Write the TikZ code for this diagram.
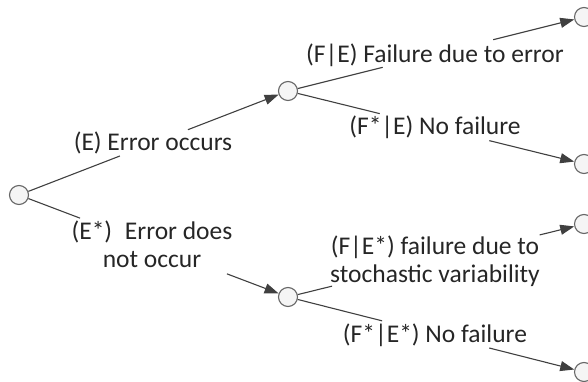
\documentclass[tikz,border=0pt]{standalone}
\usepackage{fontspec}
\setmainfont{Carlito}
\usetikzlibrary{arrows.meta,calc}
\begin{document}
\begin{tikzpicture}[x=1pt,y=-1pt,
  evt/.style={circle,draw=black!60,fill=black!4,line width=1.1pt,minimum size=19pt,inner sep=0pt},
  lbl/.style={text=black!85,font=\fontsize{25.5}{28}\selectfont,align=center,inner sep=0pt},
  seg/.style={draw=black!75,line width=1.1pt},
  arr/.style={seg,-{Triangle[length=14pt,width=10pt]}}]
\useasboundingbox (0,0) rectangle (588,382);
\node[evt] (root) at (19,195) {};
\node[evt] (um) at (288,91) {};
\node[evt] (lm) at (288,297) {};
\node[evt] (r1) at (584,17) {};
\node[evt] (r2) at (584,164) {};
\node[evt] (r3) at (584,224) {};
\node[evt] (r4) at (584,372) {};
% labels
\node[lbl] (le) at (153,143) {(E) Error occurs};
\node[lbl] (les) at (152,244) {(E*)\enspace Error does\\not occur};
\node[lbl] (lfe) at (435,55) {(F|E) Failure due to error};
\node[lbl] (lfse) at (435,127) {(F*|E) No failure};
\node[lbl] (lfes) at (435,261) {(F|E*) failure due to\\stochastic variability};
\node[lbl] (lfses) at (435,335) {(F*|E*) No failure};
% gap coordinates
\coordinate (a1) at ($(root)!0.375!(um)$);
\coordinate (a2) at ($(root)!0.628!(um)$);
\coordinate (b1) at ($(root)!0.227!(lm)$);
\coordinate (b2) at ($(root)!0.773!(lm)$);
\coordinate (c1) at ($(um)!0.32!(r1)$);
\coordinate (c2) at ($(um)!0.693!(r1)$);
\coordinate (d1) at ($(um)!0.31!(r2)$);
\coordinate (d2) at ($(um)!0.68!(r2)$);
\coordinate (e1) at ($(lm)!0.149!(r3)$);
\coordinate (e2) at ($(lm)!0.85!(r3)$);
\coordinate (f1) at ($(lm)!0.318!(r4)$);
\coordinate (f2) at ($(lm)!0.68!(r4)$);
% connectors
\draw[seg] (root) -- (a1);
\draw[arr] (a2) -- (um);
\draw[seg] (root) -- (b1);
\draw[arr] (b2) -- (lm);
\draw[seg] (um) -- (c1);
\draw[arr] (c2) -- (r1);
\draw[seg] (um) -- (d1);
\draw[arr] (d2) -- (r2);
\draw[seg] (lm) -- (e1);
\draw[arr] (e2) -- (r3);
\draw[seg] (lm) -- (f1);
\draw[arr] (f2) -- (r4);
\end{tikzpicture}
\end{document}
